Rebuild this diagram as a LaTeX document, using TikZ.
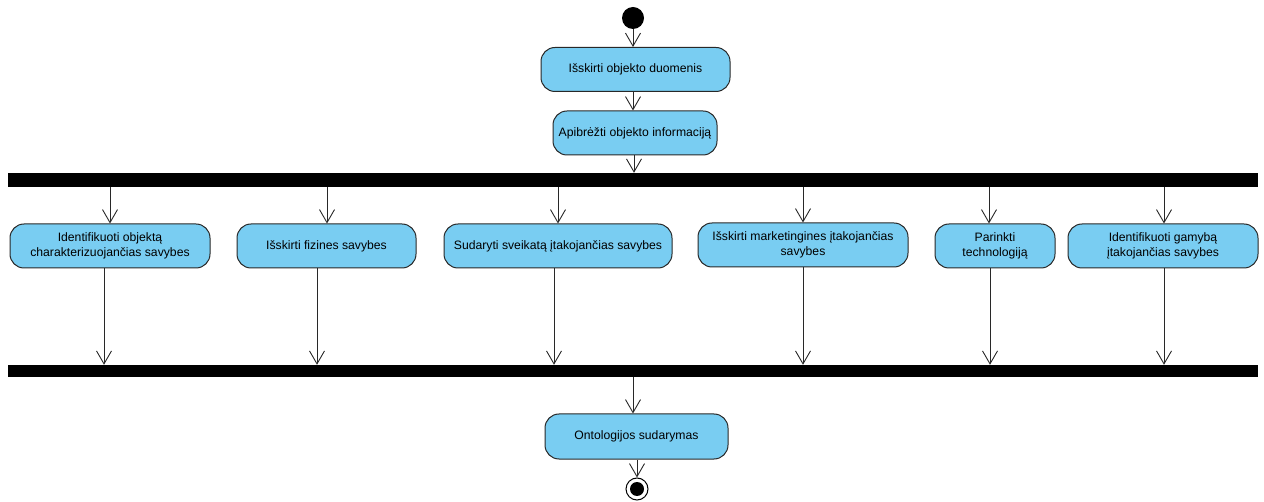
\documentclass[tikz,border=0pt]{standalone}
\usepackage{fontspec}
\setmainfont{Liberation Sans}
\usetikzlibrary{arrows.meta,positioning}
\definecolor{actfill}{RGB}{121,205,242}
\definecolor{actline}{RGB}{40,40,40}
\tikzset{
  action/.style={draw=actline, line width=1pt, fill=actfill, rounded corners=14pt,
    minimum height=44pt, align=center, font=\fontsize{12.2}{14.5}\selectfont, inner sep=2pt},
  syncbar/.style={fill=black, draw=none, minimum width=1250pt, inner sep=0pt},
  flow/.style={draw=actline, line width=0.9pt, -{Straight Barb[length=13pt,width=15pt,line width=0.9pt]}}
}
\begin{document}
\begin{tikzpicture}[x=1pt,y=-1pt]
\useasboundingbox (0,0) rectangle (1264,502);

% initial and final states
\node[circle, fill=black, minimum size=22pt, inner sep=0pt] (start) at (633,18) {};
\node[circle, draw=black, line width=1pt, fill=white, minimum size=22pt, inner sep=0pt] (final) at (637,489) {};
\node[circle, fill=black, minimum size=14pt, inner sep=0pt] (finaldot) at (637,489) {};

% sequential actions
\node[action, minimum width=189pt] (b1) at (635.5,69.5) {Išskirti objekto duomenis};
\node[action, minimum width=164pt] (b2) at (635,133) {Apibrėžti objekto informaciją};

% fork and join bars
\node[syncbar, minimum height=14pt] (fork) at (633,180) {};
\node[syncbar, minimum height=12pt] (join) at (633,371) {};

% parallel actions
\node[action, minimum width=200pt] (a) at (110,246) {Identifikuoti objektą\\charakterizuojančias savybes};
\node[action, minimum width=179pt] (b) at (326.5,246) {Išskirti fizines savybes};
\node[action, minimum width=228pt] (c) at (558,246) {Sudaryti sveikatą įtakojančias savybes};
\node[action, minimum width=210pt] (d) at (803,245) {Išskirti marketingines įtakojančias\\savybes};
\node[action, minimum width=120pt] (e) at (995,246) {Parinkti\\technologiją};
\node[action, minimum width=190pt] (f) at (1163,246) {Identifikuoti gamybą\\įtakojančias savybes};

% final action
\node[action, minimum width=183pt, minimum height=45pt] (g) at (636.5,436.5) {Ontologijos sudarymas};

% control flows
\draw[flow] ([xshift=0pt]start.south) -- ([xshift=-2.5pt]b1.north);
\draw[flow] ([xshift=-2.5pt]b1.south) -- ([xshift=-2pt]b2.north);
\draw[flow] ([xshift=-1pt]b2.south) -- ([xshift=-1pt]b2.south |- fork.north);

\foreach \n/\s in {a/0, b/0.5, c/0, d/0, e/-6, f/1}{
  \draw[flow] ([xshift=\s pt]\n.north |- fork.south) -- ([xshift=\s pt]\n.north);
}
\foreach \n/\s in {a/-6, b/-9.5, c/-4, d/0, e/-5, f/1}{
  \draw[flow] ([xshift=\s pt]\n.south) -- ([xshift=\s pt]\n.south |- join.north);
}

\draw[flow] ([xshift=0pt]join.south) -- ([xshift=-3.5pt]g.north);
\draw[flow] ([xshift=0.5pt]g.south) -- (final.north);
\end{tikzpicture}
\end{document}
